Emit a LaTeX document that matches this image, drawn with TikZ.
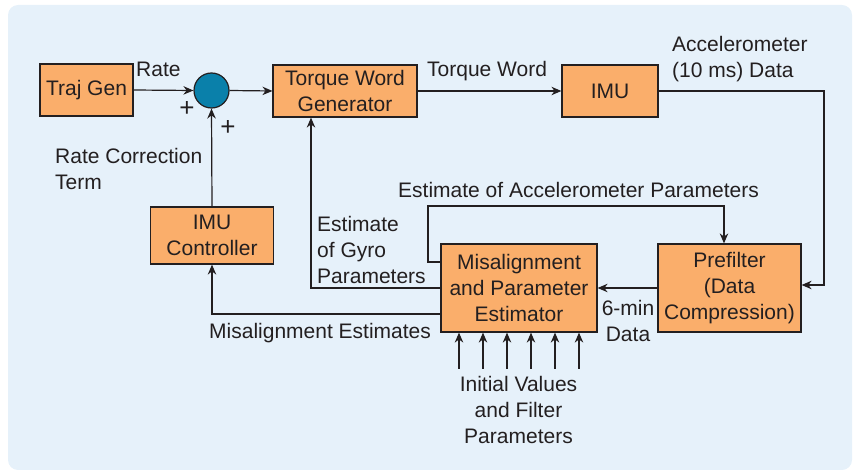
\documentclass[tikz,border=0pt]{standalone}
\usepackage{fontspec}
\setmainfont{Liberation Sans}
\usetikzlibrary{arrows.meta,calc}
\definecolor{bg}{HTML}{E6F1FA}
\definecolor{boxor}{HTML}{FAAE6B}
\definecolor{sumblue}{HTML}{0A80AA}
\definecolor{ink}{HTML}{231F20}
\tikzset{
  blk/.style={draw=ink, fill=boxor, line width=1.2pt, inner sep=0pt, align=center, text=ink},
  lbl/.style={inner sep=0pt, text=ink},
  plus/.style={inner sep=0pt, text=ink, font=\fontsize{26}{28}\selectfont},
  conn/.style={draw=ink, line width=1.2pt, -{Stealth[length=10pt,width=8.5pt]}},
}
\begin{document}
\begin{tikzpicture}[x=1pt,y=-1pt, font=\fontsize{21}{26}\selectfont]
\useasboundingbox (0,0) rectangle (856,470);
\fill[bg, rounded corners=10pt] (8,5) rectangle (852,470);

% blocks
\node[blk, minimum width=93pt, minimum height=52pt] (traj) at (86.5,90) {Traj Gen};
\node[circle, draw=ink, fill=sumblue, line width=1.2pt, minimum size=35pt, inner sep=0pt] (sum) at (211.5,90.5) {};
\node[blk, minimum width=144pt, minimum height=52pt] (twg) at (345,91) {Torque Word\\Generator};
\node[blk, minimum width=96pt, minimum height=52pt] (imu) at (610,91) {IMU};
\node[blk, minimum width=123pt, minimum height=57pt] (ctrl) at (212,235.5) {IMU\\Controller};
\node[blk, minimum width=156pt, minimum height=88pt] (mis) at (519,288) {Misalignment\\and Parameter\\Estimator};
\node[blk, minimum width=143pt, minimum height=88pt] (pre) at (729.5,288) {Prefilter\\(Data\\Compression)};

% connectors
\draw[conn] (traj.east) -- (sum.west);
\draw[conn] (sum.east) -- (twg.west);
\draw[conn] (twg.east) -- (imu.west);
\coordinate (imuR) at (824,91);
\draw[conn] (imu.east) -- (imuR) |- ([yshift=3pt]pre.east);
\draw[conn] (pre.west) -- (mis.east);
\coordinate (accA) at (428,206);
\draw[conn] ([yshift=26pt]mis.west) -| (accA) -| ([xshift=-5.5pt]pre.north);
\draw[conn] (mis.west) -| ([xshift=-34pt]twg.south);
\draw[conn] ([yshift=-26pt]mis.west) -| (ctrl.south);
\draw[conn] (ctrl.north) -- (sum.south);
\foreach \dx in {-60,-36,-12,12,36,60}{
  \coordinate (in\dx) at ([xshift=\dx pt, yshift=-36pt]mis.south);
  \draw[conn] (in\dx) -- ([xshift=\dx pt]mis.south);
}

% labels
\node[lbl, anchor=base west] (lrate) at (136,77) {Rate};
\node[plus] (lp1) at (187,109) {+};
\node[plus] (lp2) at (228,128) {+};
\node[lbl, anchor=north west, align=left] (lrct) at (55,148) {Rate Correction\\Term};
\node[lbl, anchor=base west] (ltw) at (427,77) {Torque Word};
\node[lbl, anchor=north west, align=left] (lacc) at (672,36) {Accelerometer\\(10 ms) Data};
\node[lbl, anchor=base west] (lacp) at (398,198) {Estimate of Accelerometer Parameters};
\node[lbl, anchor=north west, align=left] (lgyro) at (317,216) {Estimate\\of Gyro\\Parameters};
\node[lbl, anchor=base west] (lmis) at (209,338) {Misalignment Estimates};
\node[lbl, anchor=north, align=center] (l6) at (628,300) {6-min\\Data};
\node[lbl, anchor=north, align=center] (linit) at (518.5,376) {Initial Values\\and Filter\\Parameters};
\end{tikzpicture}
\end{document}
